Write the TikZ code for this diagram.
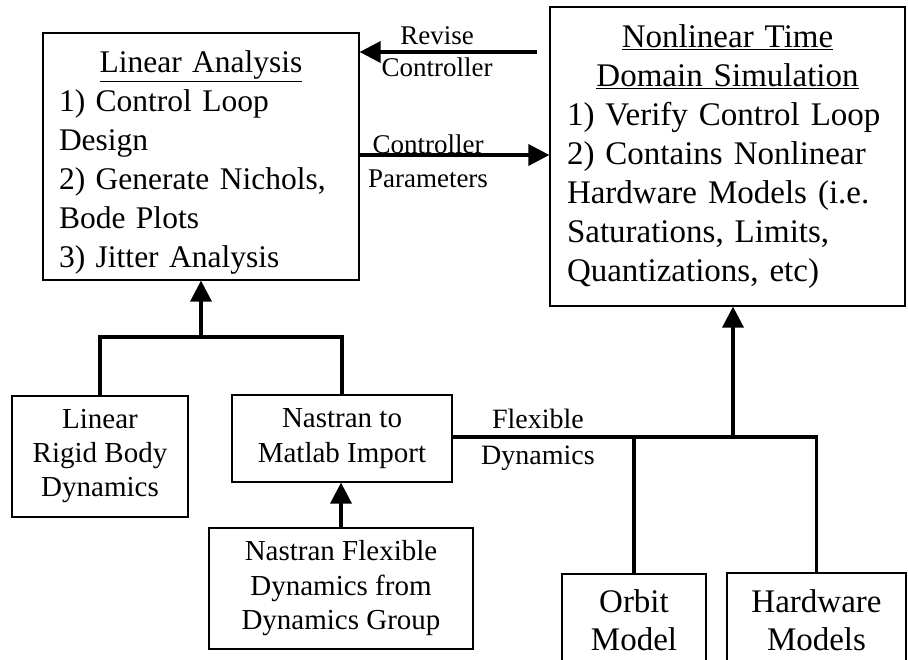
\documentclass[tikz,border=0pt]{standalone}
\usepackage{fontspec}
\setmainfont{Liberation Serif}
\usetikzlibrary{arrows.meta}
\begin{document}
\begin{tikzpicture}[x=1pt,y=-1pt,
  box/.style={draw, line width=1.2pt, inner sep=0pt},
  txt/.style={inner sep=0pt},
  conn/.style={line width=3.5pt, -{Triangle[length=21pt,width=21pt]}},
  wire/.style={line width=3.5pt},
  lbl/.style={inner sep=0pt, align=center}]
\useasboundingbox (0,0) rectangle (908,659);
% big boxes
\node[box, minimum width=316pt, minimum height=247pt] (la) at (201,156.5) {};
\node[txt, font=\fontsize{31.5}{39}\selectfont, text width=284pt, align=left] (latxt) at ([yshift=-6pt]la.center)
  {\makebox[284pt][c]{\underline{Linear Analysis}}\\
   1) Control Loop\\
   Design\\
   2) Generate Nichols,\\
   Bode Plots\\
   3) Jitter Analysis};
\node[box, minimum width=355pt, minimum height=299pt, font=\fontsize{33}{39}\selectfont, text width=321pt, align=left] (nl) at (727.5,156.5)
  {\makebox[321pt][c]{\underline{Nonlinear Time}}\\
   \makebox[321pt][c]{\underline{Domain Simulation}}\\
   1) Verify Control Loop\\
   2) Contains Nonlinear\\
   Hardware Models (i.e.\\
   Saturations, Limits,\\
   Quantizations, etc)};
% lower boxes
\node[box, minimum width=176pt, minimum height=121pt, font=\fontsize{29}{34}\selectfont, align=center] (rigid) at (100,456.5)
  {Linear\\Rigid Body\\Dynamics};
\node[box, minimum width=220pt, minimum height=87pt, font=\fontsize{29}{35}\selectfont, align=center] (nm) at (342,438.5)
  {Nastran to\\Matlab Import};
\node[box, minimum width=264pt, minimum height=121pt, font=\fontsize{29}{34.5}\selectfont, align=center] (nf) at (341,588.5)
  {Nastran Flexible\\Dynamics from\\Dynamics Group};
\node[box, minimum width=144pt, minimum height=92pt, font=\fontsize{33}{38}\selectfont, align=center] (orbit) at (634,620)
  {Orbit\\Model};
\node[box, minimum width=179pt, minimum height=93.5pt, font=\fontsize{33}{38}\selectfont, align=center] (hw) at (816.5,619.75)
  {Hardware\\Models};
% coordinates
\coordinate (ry) at (0,52);
\coordinate (cy) at (0,155);
\coordinate (jy) at (0,337);
\coordinate (fy) at (0,437);
\coordinate (j1) at (la.south |- jy);
\coordinate (j2) at (733,437);
% connectors
\draw[conn] ([xshift=-12pt]nl.west |- ry) -- (la.east |- ry);
\draw[conn] (la.east |- cy) -- (nl.west |- cy);
\draw[wire] (rigid.north) |- (j1) -| (nm.north);
\draw[conn] (j1) -- (la.south);
\draw[conn] (nf.north) -- (nf.north |- nm.south);
\draw[wire] (nm.east |- fy) -- (hw.north |- fy) -- (hw.north);
\draw[wire] (orbit.north |- fy) -- (orbit.north);
\draw[conn] (j2) -- (j2 |- nl.south);
% labels
\node[lbl, font=\fontsize{27}{32}\selectfont] (revise) at (437,52) {Revise\\Controller};
\node[lbl, font=\fontsize{27}{34}\selectfont] (params) at (428,161) {Controller\\Parameters};
\node[lbl, font=\fontsize{28}{36}\selectfont] (flex) at (538,440) {Flexible\\Dynamics};
\end{tikzpicture}
\end{document}
